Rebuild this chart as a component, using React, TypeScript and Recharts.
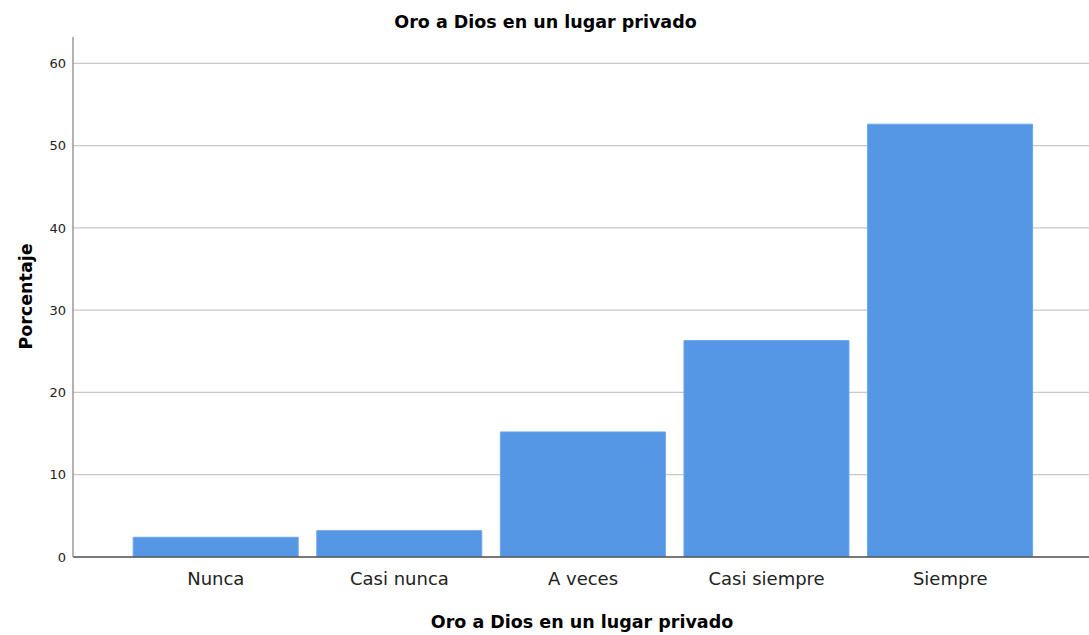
import React from "react";
import { BarChart, Bar, XAxis, YAxis, CartesianGrid } from "recharts";

const categories = ["Nunca", "Casi nunca", "A veces", "Casi siempre", "Siempre"];
const percentages = [2.4, 3.2, 15.2, 26.3, 52.6];
const yTicks = [0, 10, 20, 30, 40, 50, 60];
const title = "Oro a Dios en un lugar privado";
const xLabel = "Oro a Dios en un lugar privado";
const yLabel = "Porcentaje";

const data = categories.map((name, i) => ({ name, value: percentages[i] }));

const FONT = "'DejaVu Sans', sans-serif";

export default function App() {
  return (
    <div style={{ position: "absolute", left: 0, top: 0, width: 1089, height: 635, background: "#fff" }}>
      <BarChart
        width={1089}
        height={635}
        data={data}
        margin={{ top: 37, right: 0, bottom: 48, left: 0 }}
        barCategoryGap="5%"
      >
        <CartesianGrid vertical={false} stroke="#c8c8c8" strokeWidth={1.2} syncWithTicks />
        <XAxis
          dataKey="name"
          height={30}
          padding={{ left: 51, right: 47 }}
          axisLine={{ stroke: "#555", strokeWidth: 1.5 }}
          tickLine={false}
          tickSize={6}
          tickMargin={9}
          tick={{ fill: "#222", fontSize: 18, fontFamily: FONT }}
          interval={0}
        />
        <YAxis
          width={73}
          domain={[0, 63.2]}
          ticks={yTicks}
          allowDataOverflow
          axisLine={{ stroke: "#999", strokeWidth: 1.5 }}
          tickLine={false}
          tickSize={5}
          tickMargin={2}
          tick={{ fill: "#222", fontSize: 13, fontFamily: FONT }}
        />
        <Bar dataKey="value" fill="#5596e5" stroke="#6aa5ec" strokeWidth={1} isAnimationActive={false} />
      </BarChart>
      <svg
        width={1089}
        height={635}
        style={{ position: "absolute", left: 0, top: 0, pointerEvents: "none" }}
      >
        <text x={545.5} y={27.5} textAnchor="middle" fontFamily={FONT} fontWeight="bold" fontSize={17.5} fill="#000">
          {title}
        </text>
        <text x={582} y={628} textAnchor="middle" fontFamily={FONT} fontWeight="bold" fontSize={17.5} fill="#000">
          {xLabel}
        </text>
        <text
          x={0}
          y={0}
          textAnchor="middle"
          fontFamily={FONT}
          fontWeight="bold"
          fontSize={17.5}
          fill="#000"
          transform="translate(31.5,296.5) rotate(-90)"
        >
          {yLabel}
        </text>
      </svg>
    </div>
  );
}
